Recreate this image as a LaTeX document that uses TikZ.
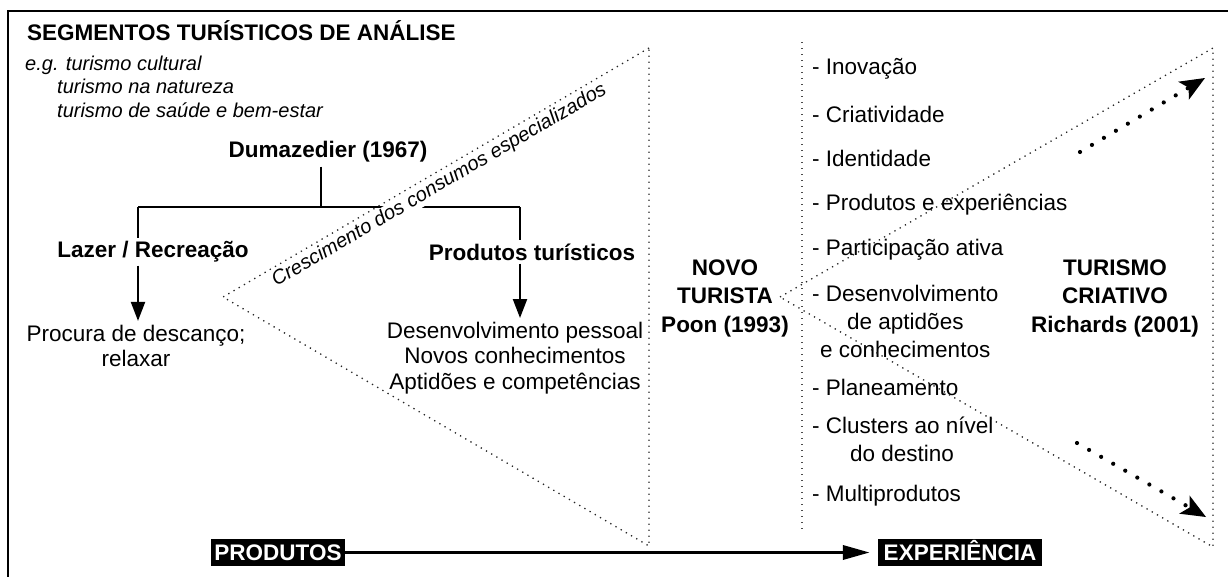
\documentclass[tikz,border=0pt]{standalone}
\usepackage{fontspec}
\setmainfont{Liberation Sans}
\usetikzlibrary{arrows.meta}
\begin{document}
\begin{tikzpicture}[x=1pt,y=-1pt,
  body/.style={font=\fontsize{22.5}{25.3}\selectfont, inner sep=0pt},
  listitem/.style={font=\fontsize{22.5}{25}\selectfont, inner sep=0pt, anchor=base west},
  bodyb/.style={font=\fontsize{22.5}{28.5}\selectfont\bfseries, inner sep=0pt, align=center},
  ital/.style={font=\fontsize{20}{23}\selectfont\itshape, inner sep=0pt, anchor=base west},
  tree/.style={line width=2.2pt},
  treearrow/.style={line width=2.2pt, -{Triangle[length=19pt,width=14pt]}},
  fine/.style={line width=1.3pt, black!85, dash pattern=on 1.3pt off 4.7pt},
  bigdots/.style={line width=4.2pt, line cap=round, dash pattern=on 0pt off 13.9pt,
    -{Stealth[length=25pt,width=21pt,inset=6pt,line width=0pt]}},
  blackbox/.style={fill=black, text=white, font=\fontsize{22.5}{25}\selectfont\bfseries,
    inner xsep=2pt, inner ysep=5.4pt, text height=16.2pt, text depth=0pt}
]
\useasboundingbox (0,0) rectangle (1228,576);

% frame
\draw[line width=1.5pt] (8,580) -- (8,11) -- (1232,11);

% title and examples
\node[font=\fontsize{22.5}{25}\selectfont\bfseries, inner sep=0pt, anchor=base west] (title) at (27,40) {SEGMENTOS TURÍSTICOS DE ANÁLISE};
\node[ital] (eg1) at (25,70) {e.g. turismo cultural};
\node[ital] (eg2) at (57,93) {turismo na natureza};
\node[ital] (eg3) at (57,117) {turismo de saúde e bem-estar};

% tree
\node[bodyb] (dum) at (328,152) {Dumazedier (1967)};
\coordinate (jn) at (321,207);
\coordinate (lj) at (138,207);
\coordinate (rj) at (520,207);
\draw[tree] (jn |- dum.south) ++(0,4) -- (jn);
\draw[tree] (lj) -- (rj);

\node[ital, anchor=base, rotate=30.3, fill=white, inner sep=1pt] (cres) at (442,190) {Crescimento dos consumos especializados};

\node[bodyb, fill=white, inner sep=3pt] (lazer) at (153,252) {Lazer / Recreação};
\node[bodyb, fill=white, inner sep=3pt] (prod) at (532,252) {Produtos turísticos};
\draw[tree] (lj) -- (lj |- lazer.north);
\draw[tree] (rj) -- (rj |- prod.north);

\node[body, align=center] (proc) at (136,346) {Procura de descanço;\\relaxar};
\node[body, align=center] (dev) at (515,358) {Desenvolvimento pessoal\\Novos conhecimentos\\Aptidões e competências};
\draw[treearrow, shorten >=4pt] (lj |- lazer.south) -- (lj |- proc.north);
\draw[treearrow, shorten >=4pt] (rj |- prod.south) -- (rj |- dev.north);

% middle and right headings
\node[bodyb] (novo) at (725,298) {NOVO\\TURISTA\\Poon (1993)};
\node[bodyb] (crt) at (1115,298) {TURISMO\\CRIATIVO\\Richards (2001)};

% list
\node[listitem] (i1) at (812,74) {- Inovação};
\node[listitem] (i2) at (812,122) {- Criatividade};
\node[listitem] (i3) at (812,166) {- Identidade};
\node[listitem] (i4) at (812,210) {- Produtos e experiências};
\node[listitem] (i5) at (812,255) {- Participação ativa};
\node[listitem] (i6) at (812,301) {- Desenvolvimento};
\node[listitem] (i6b) at (847,329) {de aptidões};
\node[listitem] (i6c) at (820,357) {e conhecimentos};
\node[listitem] (i7) at (812,395) {- Planeamento};
\node[listitem] (i8) at (812,433) {- Clusters ao nível};
\node[listitem] (i8b) at (850,461) {do destino};
\node[listitem] (i9) at (812,501) {- Multiprodutos};

% dotted triangles and separator
\coordinate (lt) at (649,48);
\coordinate (la) at (223,297);
\coordinate (lb) at (649,546);
\draw[fine] (lt) -- (la) -- (lb) -- cycle;
\coordinate (sepT) at (802,42);
\coordinate (sepB) at (802,529);
\draw[fine, black!70] (sepT) -- (sepB);
\coordinate (ra) at (780,297);
\coordinate (rt) at (1213,48);
\coordinate (rb) at (1213,547);
\draw[fine] (ra) -- (rt) -- (rb) -- cycle;

% big dotted arrows
\coordinate (u1) at (1080,152);
\coordinate (u2) at (1205,78);
\coordinate (d1) at (1077,443);
\coordinate (d2) at (1206,517);
\draw[bigdots] (u1) -- (u2);
\draw[bigdots] (d1) -- (d2);

% bottom axis
\node[blackbox, minimum width=134pt] (pbox) at (278,552.5) {PRODUTOS};
\node[blackbox, minimum width=164pt] (ebox) at (960,552.5) {EXPERIÊNCIA};
\draw[line width=3.5pt, -{Triangle[length=27pt,width=14pt]}, shorten >=8pt] (pbox.east) -- (ebox.west);
\end{tikzpicture}
\end{document}
